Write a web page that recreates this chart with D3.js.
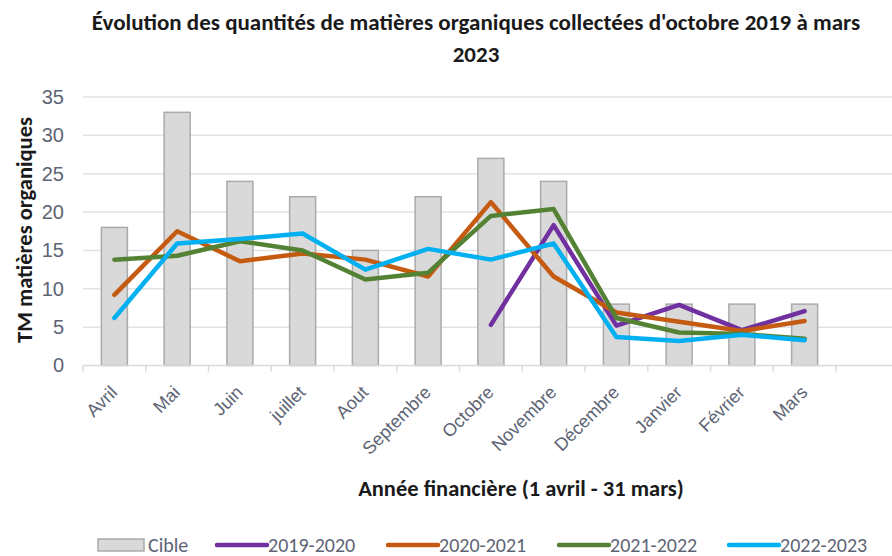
<!DOCTYPE html>
<html>
<head>
<meta charset="utf-8">
<script src="https://cdn.jsdelivr.net/npm/d3@7"></script>
<style>
  body { margin: 0; background: #fff; }
  svg { font-family: Carlito, Lato, "Open Sans", sans-serif; }
</style>
</head>
<body>
<div id="chart"></div>
<script>
// categories (last one is the empty slot Excel leaves at the right)
var months = ["Avril", "Mai", "Juin", "juillet", "Aout", "Septembre", "Octobre",
              "Novembre", "Décembre", "Janvier", "Février", "Mars", ""];

var cible = [18, 33, 24, 22, 15, 22, 27, 24, 8, 8, 8, 8];

var s2019 = [null, null, null, null, null, null, 5.3, 18.3, 5.2, 7.9, 4.6, 7.1];
var s2020 = [9.2, 17.5, 13.6, 14.6, 13.8, 11.6, 21.3, 11.6, 6.9, 5.7, 4.5, 5.8];
var s2021 = [13.8, 14.3, 16.2, 15.0, 11.2, 12.1, 19.5, 20.4, 6.2, 4.3, 4.1, 3.5];
var s2022 = [6.2, 15.9, 16.5, 17.2, 12.5, 15.2, 13.8, 15.9, 3.7, 3.2, 4.0, 3.3];

var yTicks = [0, 5, 10, 15, 20, 25, 30, 35];

var series = [
  { name: "2019-2020", values: s2019, color: "#7030A0" },
  { name: "2020-2021", values: s2020, color: "#C55A11" },
  { name: "2021-2022", values: s2021, color: "#548235" },
  { name: "2022-2023", values: s2022, color: "#00B0F0" }
];

var width = 892, height = 556;
var plotLeft = 83, plotTop = 97, plotBottom = 365.5;
var band = 62.75;

var svg = d3.select("#chart").append("svg")
  .attr("width", width)
  .attr("height", height);

var x = d3.scaleBand()
  .domain(months)
  .range([plotLeft, plotLeft + band * months.length]);

var y = d3.scaleLinear()
  .domain([0, 35])
  .range([plotBottom, plotTop]);

/* gridlines */
svg.append("g")
  .selectAll("line")
  .data(yTicks.slice(1))
  .enter()
  .append("line")
  .attr("x1", plotLeft)
  .attr("x2", width)
  .attr("y1", d => y(d))
  .attr("y2", d => y(d))
  .attr("stroke", "#e1e1e8")
  .attr("stroke-width", 1.5);

/* y axis labels */
var yAxis = d3.axisLeft(y).tickValues(yTicks).tickSize(0).tickPadding(0);
var gy = svg.append("g")
  .attr("transform", `translate(64, 0)`)
  .call(yAxis);
gy.select(".domain").remove();
gy.selectAll("text")
  .attr("fill", "#5d6474")
  .style("font-size", "20px");

/* bars */
var barW = 26;
svg.append("g")
  .selectAll("rect")
  .data(cible)
  .enter()
  .append("rect")
  .attr("x", (d, i) => x(months[i]) + (x.bandwidth() - barW) / 2)
  .attr("y", d => y(d))
  .attr("width", barW)
  .attr("height", d => plotBottom - y(d))
  .attr("fill", "#d9d9d9")
  .attr("stroke", "#aaaaaa")
  .attr("stroke-width", 1.5);

/* x axis */
svg.append("line")
  .attr("x1", plotLeft)
  .attr("x2", width)
  .attr("y1", plotBottom)
  .attr("y2", plotBottom)
  .attr("stroke", "#d9d9df")
  .attr("stroke-width", 1.5);

svg.append("g")
  .selectAll("line")
  .data(months)
  .enter()
  .append("line")
  .attr("x1", d => x(d))
  .attr("x2", d => x(d))
  .attr("y1", plotBottom)
  .attr("y2", plotBottom + 6)
  .attr("stroke", "#d9d9df")
  .attr("stroke-width", 1.5);

var xAxis = d3.axisBottom(x).tickSize(0).tickPadding(0);
var gx = svg.append("g")
  .attr("transform", `translate(0, ${plotBottom})`)
  .call(xAxis);
gx.select(".domain").remove();
gx.selectAll("text")
  .attr("fill", "#5d6474")
  .style("font-size", "18px")
  .attr("text-anchor", "end")
  .attr("dy", 0)
  .attr("transform", "translate(4, 28) rotate(-45)");

/* lines */
var line = d3.line()
  .defined(d => d[1] != null)
  .x(d => x(d[0]) + x.bandwidth() / 2)
  .y(d => y(d[1]));

svg.append("g")
  .attr("fill", "none")
  .selectAll("path")
  .data(series)
  .enter()
  .append("path")
  .attr("d", s => line(s.values.map((v, i) => [months[i], v])))
  .attr("stroke", s => s.color)
  .attr("stroke-width", 4.5)
  .attr("stroke-linejoin", "round")
  .attr("stroke-linecap", "round");

/* titles */
var title = svg.append("text")
  .attr("x", 476)
  .attr("text-anchor", "middle")
  .attr("font-weight", "bold")
  .style("font-size", "23px")
  .attr("fill", "#1a1a1a");
title.append("tspan").attr("x", 476).attr("y", 30)
  .text("Évolution des quantités de matières organiques collectées d'octobre 2019 à mars");
title.append("tspan").attr("x", 476).attr("y", 62).text("2023");

svg.append("text")
  .attr("x", 521)
  .attr("y", 496)
  .attr("text-anchor", "middle")
  .attr("font-weight", "bold")
  .style("font-size", "22.5px")
  .attr("fill", "#1a1a1a")
  .text("Année financière (1 avril - 31 mars)");

svg.append("text")
  .attr("transform", "translate(32, 230) rotate(-90)")
  .attr("text-anchor", "middle")
  .attr("font-weight", "bold")
  .style("font-size", "22.5px")
  .attr("fill", "#1a1a1a")
  .text("TM matières organiques");

/* legend */
var leg = svg.append("g").attr("transform", "translate(0, 545)");
leg.append("rect")
  .attr("x", 98).attr("y", -6)
  .attr("width", 46).attr("height", 12)
  .attr("fill", "#d9d9d9")
  .attr("stroke", "#aaaaaa")
  .attr("stroke-width", 1.5);
leg.append("text")
  .attr("x", 148).attr("y", 7)
  .attr("fill", "#5d6474")
  .style("font-size", "20px")
  .text("Cible");

var legX = [217, 388, 559, 729];
series.forEach(function(s, i) {
  leg.append("line")
    .attr("x1", legX[i]).attr("x2", legX[i] + 50)
    .attr("y1", 0).attr("y2", 0)
    .attr("stroke", s.color)
    .attr("stroke-width", 4.5)
    .attr("stroke-linecap", "round");
  leg.append("text")
    .attr("x", legX[i] + 51).attr("y", 7)
    .attr("fill", "#5d6474")
    .style("font-size", "20px")
    .text(s.name);
});
</script>
</body>
</html>
